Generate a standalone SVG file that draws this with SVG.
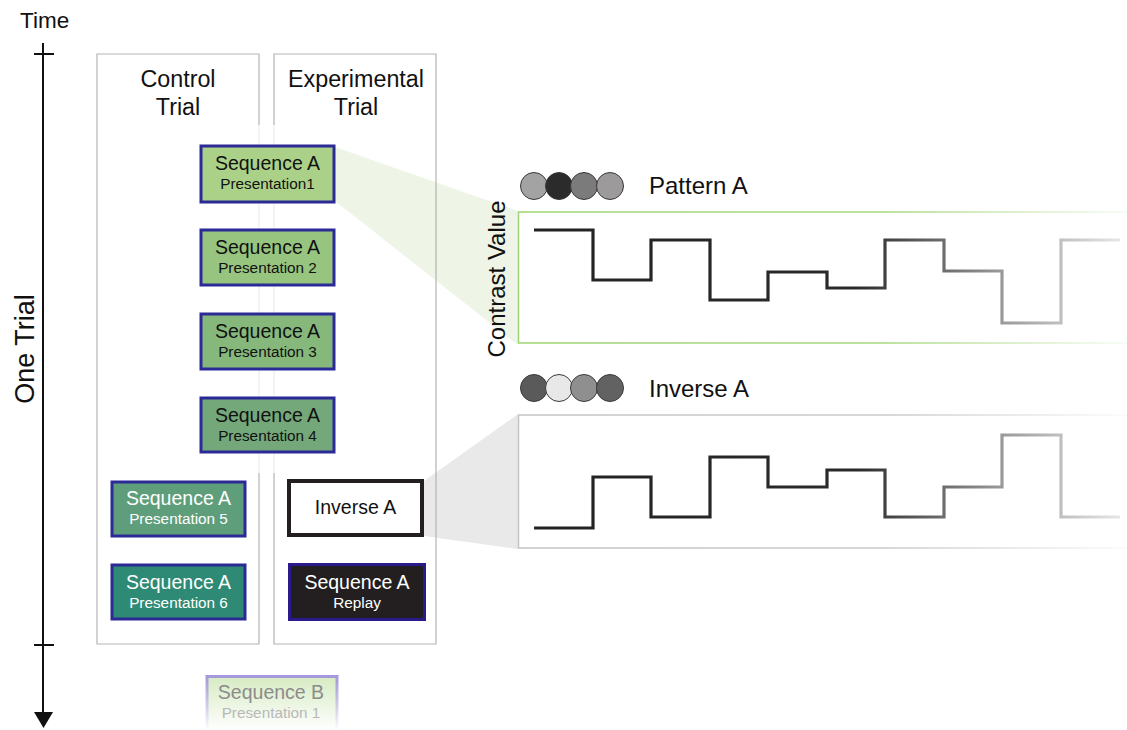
<svg xmlns="http://www.w3.org/2000/svg" width="1127" height="730" viewBox="0 0 1127 730">
<defs>
<style>
text{font-family:"Liberation Sans",Arial,sans-serif}
.frame{fill:none;stroke:#b4b4b4;stroke-width:1.2}
.faint{fill:none;stroke:#ececec;stroke-width:1.2}
.seq{stroke:#2b2a96;stroke-width:3}
.t1{font-size:19.5px;text-anchor:middle}
.t2{font-size:15.3px;text-anchor:middle}
.hdr{font-size:23.3px;text-anchor:middle;fill:#111}
.lbl{font-size:24px;fill:#111}
.circ{stroke:#3a3a3a;stroke-width:1}
</style>
<linearGradient id="gWave" gradientUnits="userSpaceOnUse" x1="534" y1="0" x2="1120" y2="0">
<stop offset="0" stop-color="#222"/><stop offset="0.55" stop-color="#2a2a2a"/><stop offset="0.8" stop-color="#9a9a9a"/><stop offset="1" stop-color="#e6e6e6"/>
</linearGradient>
<linearGradient id="gGreen" gradientUnits="userSpaceOnUse" x1="518" y1="0" x2="1127" y2="0">
<stop offset="0" stop-color="#9fd472"/><stop offset="0.6" stop-color="#a8d880"/><stop offset="1" stop-color="#a8d880" stop-opacity="0.1"/>
</linearGradient>
<linearGradient id="gGray" gradientUnits="userSpaceOnUse" x1="518" y1="0" x2="1127" y2="0">
<stop offset="0" stop-color="#c4c4c4"/><stop offset="0.6" stop-color="#cacaca"/><stop offset="1" stop-color="#cacaca" stop-opacity="0.1"/>
</linearGradient>
<linearGradient id="gSeqB" x1="0" y1="0" x2="0" y2="1">
<stop offset="0" stop-color="#d6ebc2"/><stop offset="1" stop-color="#ffffff"/>
</linearGradient>
<linearGradient id="gSeqBStroke" x1="0" y1="0" x2="0" y2="1">
<stop offset="0" stop-color="#a598dc"/><stop offset="1" stop-color="#a598dc" stop-opacity="0"/>
</linearGradient>
</defs>
<rect width="1127" height="730" fill="#fff"/>

<!-- projection wedges -->
<g id="wedges">
<polygon points="335,147 518,211 518,345 335,201" fill="#eef5e6"/>
<polygon points="424,481 518,414 518,549 424,536" fill="#e9e9e9"/>
</g>

<!-- time axis -->
<g id="time-axis">
<text x="20" y="28" font-size="22.5" fill="#111">Time</text>
<line x1="43" y1="43" x2="43" y2="714" stroke="#111" stroke-width="2"/>
<line x1="34" y1="54" x2="54" y2="54" stroke="#111" stroke-width="2"/>
<line x1="34" y1="645" x2="54" y2="645" stroke="#111" stroke-width="2"/>
<polygon points="34,712 53,712 43.5,728" fill="#111"/>
<text transform="translate(34,349) rotate(-90)" font-size="27" text-anchor="middle" fill="#111">One Trial</text>
</g>

<!-- trial frames -->
<g id="control-trial">
<path class="frame" d="M259,125 V54 H97 V644 H259 V473"/>
<line class="faint" x1="259" y1="125" x2="259" y2="473"/>
<text x="178" y="87" class="hdr">Control</text>
<text x="178" y="115" class="hdr">Trial</text>
</g>
<g id="experimental-trial">
<path class="frame" d="M274,125 V54 H436 V644 H274 V473"/>
<line class="faint" x1="274" y1="125" x2="274" y2="473"/>
<text x="356" y="87" class="hdr">Experimental</text>
<text x="356" y="115" class="hdr">Trial</text>
</g>

<!-- sequence boxes -->
<g id="seqA-p1">
<rect x="201" y="146" width="133" height="56" fill="#abd189" class="seq"/>
<text x="267.5" y="170" class="t1" fill="#111">Sequence A</text>
<text x="267.5" y="189" class="t2" fill="#111">Presentation1</text>
</g>
<g id="seqA-p2">
<rect x="201" y="230" width="133" height="55" fill="#97c47f" class="seq"/>
<text x="267.5" y="254" class="t1" fill="#111">Sequence A</text>
<text x="267.5" y="273" class="t2" fill="#111">Presentation 2</text>
</g>
<g id="seqA-p3">
<rect x="201" y="314" width="133" height="55" fill="#86b87c" class="seq"/>
<text x="267.5" y="338" class="t1" fill="#111">Sequence A</text>
<text x="267.5" y="357" class="t2" fill="#111">Presentation 3</text>
</g>
<g id="seqA-p4">
<rect x="201" y="398" width="133" height="54" fill="#74a87a" class="seq"/>
<text x="267.5" y="422" class="t1" fill="#111">Sequence A</text>
<text x="267.5" y="441" class="t2" fill="#111">Presentation 4</text>
</g>
<g id="seqA-p5">
<rect x="112" y="482" width="133" height="54" fill="#5f9e7b" class="seq"/>
<text x="178.5" y="505" class="t1" fill="#fff">Sequence A</text>
<text x="178.5" y="524" class="t2" fill="#fff">Presentation 5</text>
</g>
<g id="seqA-p6">
<rect x="112" y="565" width="133" height="54" fill="#2e8a74" class="seq"/>
<text x="178.5" y="589" class="t1" fill="#fff">Sequence A</text>
<text x="178.5" y="608" class="t2" fill="#fff">Presentation 6</text>
</g>
<g id="inverse-a-box">
<rect x="289" y="481" width="133" height="54" fill="#fff" stroke="#231f20" stroke-width="4"/>
<text x="355.5" y="514" class="t1" fill="#111">Inverse A</text>
</g>
<g id="seqA-replay">
<rect x="289.5" y="564.5" width="135" height="55" fill="#231f20" stroke="#2a1a8c" stroke-width="3"/>
<text x="357" y="589" class="t1" fill="#fff">Sequence A</text>
<text x="357" y="608" class="t2" fill="#fff">Replay</text>
</g>
<g id="seqB-p1">
<path d="M207,730 V676.5 H337 V730" fill="url(#gSeqB)" stroke="url(#gSeqBStroke)" stroke-width="3"/>
<text x="271" y="699" class="t1" fill="#8c8c8c">Sequence B</text>
<text x="271" y="718" class="t2" fill="#b8b8b8">Presentation 1</text>
</g>

<!-- pattern A panel -->
<g id="pattern-a">
<circle cx="534" cy="186" r="13.5" fill="#a3a3a3" class="circ"/>
<circle cx="559" cy="186" r="13.5" fill="#2b2b2b" class="circ"/>
<circle cx="584" cy="186" r="13.5" fill="#7b7b7b" class="circ"/>
<circle cx="610" cy="186" r="13.5" fill="#9c9a9a" class="circ"/>
<text x="649" y="194" class="lbl">Pattern A</text>
<path d="M1127,212 H518.5 V343 H1127" fill="#fff" stroke="url(#gGreen)" stroke-width="1.5"/>
<text transform="translate(505,279) rotate(-90)" font-size="24" text-anchor="middle" fill="#111">Contrast Value</text>
<path d="M534,230 H593 V280 H651 V240 H710 V300 H768 V272 H827 V288 H885 V240 H944 V271 H1002 V323 H1061 V240 H1120" fill="none" stroke="url(#gWave)" stroke-width="3.2"/>
</g>

<!-- inverse A panel -->
<g id="inverse-a">
<circle cx="534" cy="388" r="13.5" fill="#5a5a5a" class="circ"/>
<circle cx="559" cy="388" r="13.5" fill="#e8e8e8" class="circ"/>
<circle cx="584" cy="388" r="13.5" fill="#8f8f8f" class="circ"/>
<circle cx="610" cy="388" r="13.5" fill="#626262" class="circ"/>
<text x="649" y="397" class="lbl">Inverse A</text>
<path d="M1127,415 H518.5 V548 H1127" fill="#fff" stroke="url(#gGray)" stroke-width="1.5"/>
<path d="M534,528 H593 V477 H651 V517 H710 V457 H768 V487 H827 V470 H885 V517 H944 V487 H1002 V435 H1061 V517 H1120" fill="none" stroke="url(#gWave)" stroke-width="3.2"/>
</g>
</svg>
